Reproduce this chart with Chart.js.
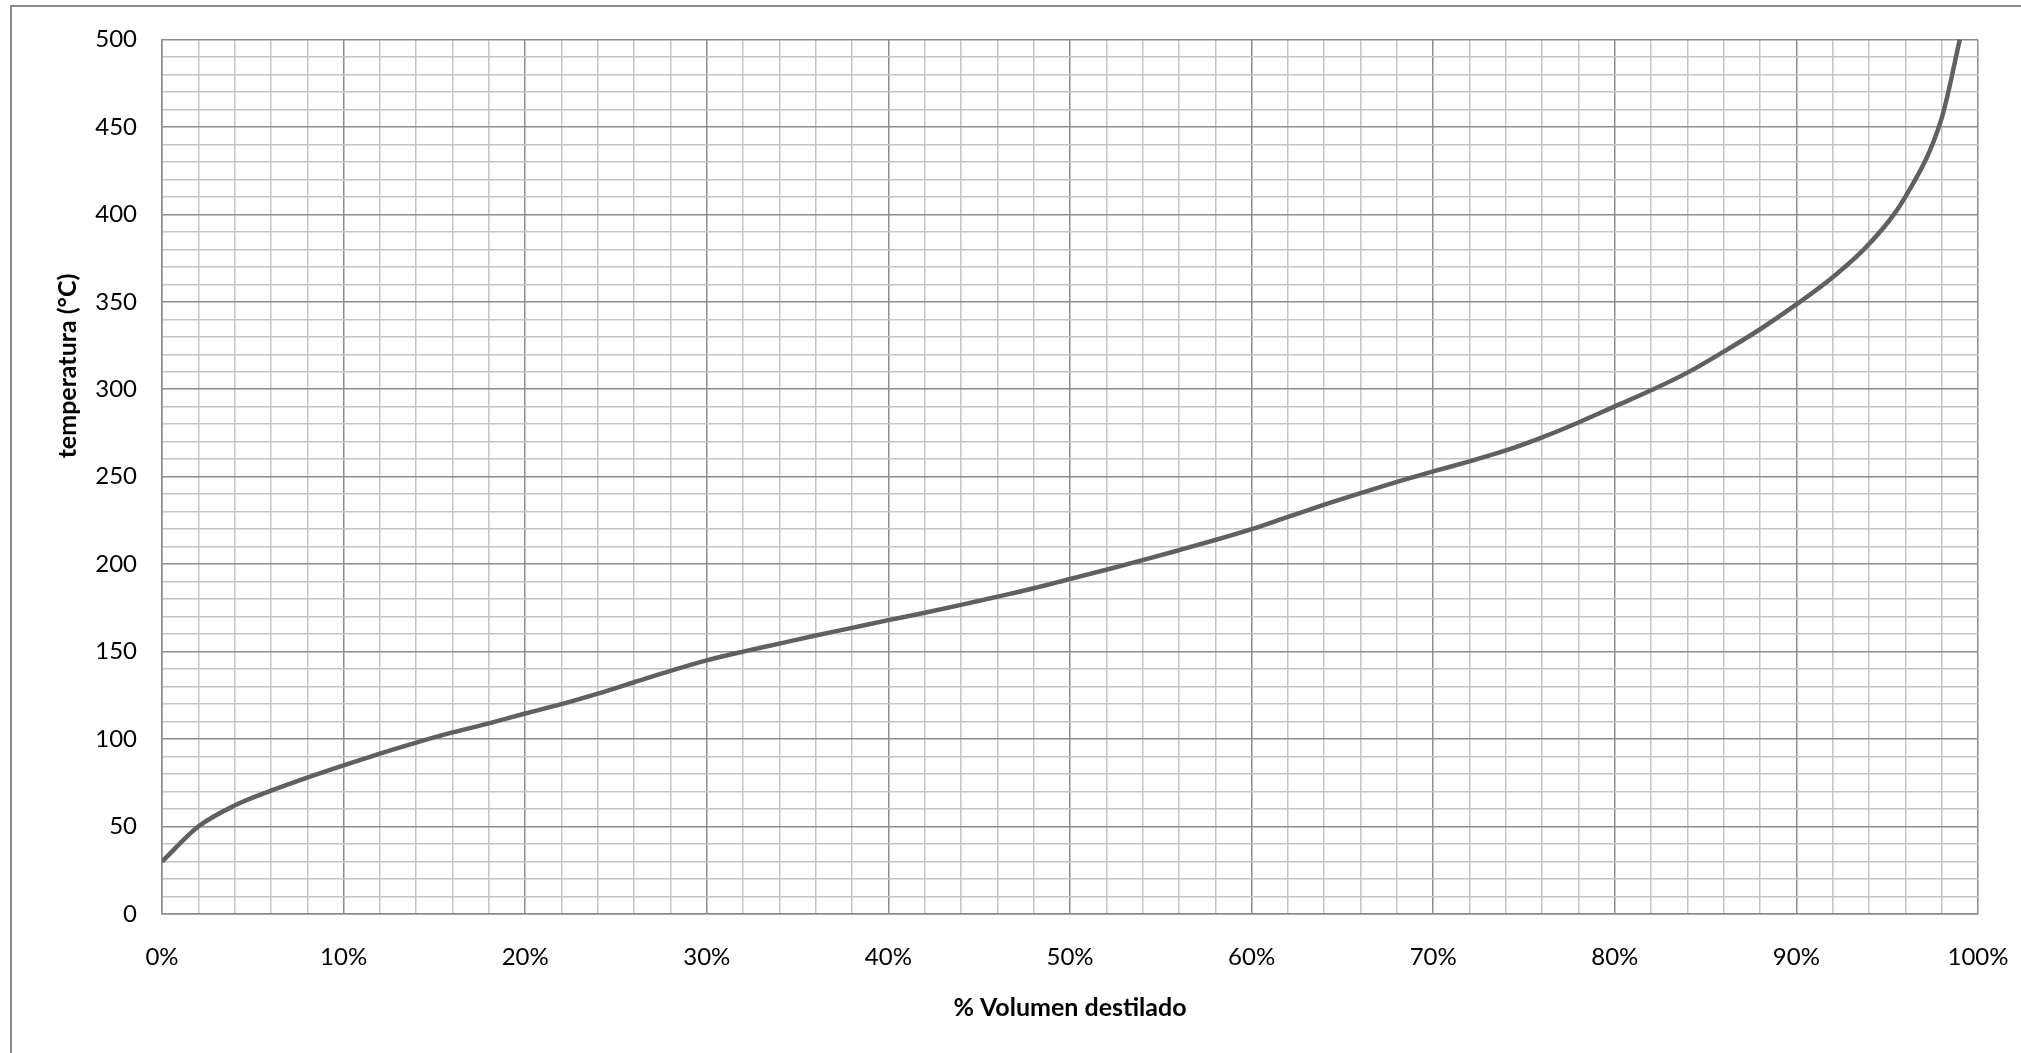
<!DOCTYPE html>
<html>
<head>
<meta charset="utf-8">
<script src="https://cdn.jsdelivr.net/npm/chart.js@4.4.1/dist/chart.umd.min.js"></script>
<style>
   html, body { margin: 0; padding: 0; background: #fff; overflow: hidden; }
   #frame { position: absolute; left: 10px; top: 5px; width: 2100px; height: 1100px; border: 2px solid #8c8c8c; }
   #chart { position: absolute; left: 0; top: 0; }
</style>
</head>
<body>
<div id="frame"></div>
<canvas id="chart" width="2021" height="1053"></canvas>
<script>
// % volumen destilado vs temperatura
var volumen = [0, 2, 4, 6, 8, 10, 12, 14, 16, 18, 20, 22, 24, 26, 28, 30, 32, 34, 36, 38,
   40, 42, 44, 46, 48, 50, 52, 54, 56, 58, 60, 62, 64, 66, 68, 70, 72, 74, 76, 78,
   80, 82, 84, 86, 88, 90, 92, 94, 96, 98, 99];
var temperatura = [30, 50, 62, 70.5, 78, 85, 91.7, 98, 103.8, 109, 114.6, 120, 126, 132.5, 139, 145, 150, 154.6, 159.2, 163.6,
   168, 172.2, 176.7, 181.4, 186.2, 191.5, 196.8, 202.3, 208, 213.8, 220, 227, 234, 240.6, 247, 253, 258.8, 265, 272.5, 281,
   290.2, 299.4, 309.5, 321.5, 334.3, 348.5, 364, 383, 410, 455, 500];

var xTickLabels = ["0%", "10%", "20%", "30%", "40%", "50%", "60%", "70%", "80%", "90%", "100%"];
var yTickLabels = ["0", "50", "100", "150", "200", "250", "300", "350", "400", "450", "500"];

var xTitle = "% Volumen destilado";
var yTitle = "temperatura (°C)";

var majorColor = "#8c8c8c";
var minorColor = "#c4c4c4";

var points = [];
for (let i = 0; i < volumen.length; i++) {
   points.push({ x: volumen[i], y: temperatura[i] });
}

// y axis title sits above the middle of the axis, so it is drawn by hand
var yTitlePlugin = {
   id: "yTitle",
   afterDraw: function (chart) {
      var c = chart.ctx;
      c.save();
      c.translate(68, 366);
      c.rotate(-Math.PI / 2);
      c.font = "bold 25px Lato";
      c.fillStyle = "#000";
      c.textAlign = "center";
      c.textBaseline = "middle";
      c.fillText(yTitle, 0, 0);
      c.restore();
   },
};

var ctx = document.getElementById("chart").getContext("2d");
var chart = new Chart(ctx, {
   type: "line",
   data: {
      datasets: [
         {
            data: points,
            borderColor: "#606060",
            borderWidth: 4.5,
            pointRadius: 0,
            cubicInterpolationMode: "monotone",
            fill: false,
         },
      ],
   },
   options: {
      responsive: false,
      animation: false,
      layout: { padding: { top: 35, right: 43, bottom: 0, left: 0 } },
      plugins: { legend: { display: false }, tooltip: { enabled: false } },
      scales: {
         x: {
            type: "linear",
            min: 0,
            max: 100,
            afterFit: function (s) {
               s.height = 139;
               // tick padding would otherwise widen the side margins
               s.paddingLeft = 0;
               s.paddingRight = 0;
            },
            border: { color: majorColor, width: 1.5 },
            grid: {
               drawTicks: false,
               lineWidth: 1.5,
               color: function (c) { return Math.round(c.tick.value) % 10 === 0 ? majorColor : minorColor; },
            },
            ticks: {
               stepSize: 2,
               autoSkip: false,
               maxRotation: 0,
               padding: 29,
               color: "#000",
               font: { family: "Lato", size: 24 },
               callback: function (v) { return Math.round(v) % 10 === 0 ? xTickLabels[Math.round(v) / 10] : ""; },
            },
            title: {
               display: true,
               text: xTitle,
               color: "#000",
               font: { family: "Lato", size: 25, weight: "bold" },
               padding: { top: 0, bottom: 30 },
            },
         },
         y: {
            type: "linear",
            min: 0,
            max: 500,
            afterFit: function (s) { s.width = 162; },
            border: { color: majorColor, width: 1.5 },
            grid: {
               drawTicks: false,
               lineWidth: 1.5,
               color: function (c) { return Math.round(c.tick.value) % 50 === 0 ? majorColor : minorColor; },
            },
            ticks: {
               stepSize: 10,
               autoSkip: false,
               padding: 25,
               color: "#000",
               font: { family: "Lato", size: 24 },
               callback: function (v) { return Math.round(v) % 50 === 0 ? yTickLabels[Math.round(v) / 50] : ""; },
            },
         },
      },
   },
   plugins: [yTitlePlugin],
});
</script>
</body>
</html>
